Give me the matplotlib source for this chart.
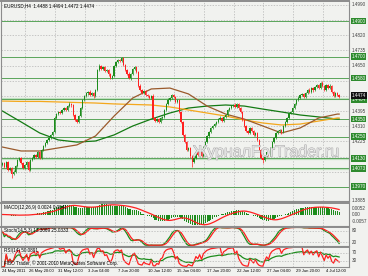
import numpy as np
import pandas as pd
import matplotlib
matplotlib.use("Agg")
import matplotlib.pyplot as plt
import matplotlib.patheffects as pe
import matplotlib.transforms as mtransforms

plt.rcParams['font.family'] = ['Liberation Sans', 'DejaVu Sans']

# EURUSD H4 closes, 24 May 2011 - 5 Jul 2011
closes = [
    1.4104, 1.4081, 1.4109, 1.4064, 1.4076, 1.4042, 1.4053, 1.4087, 1.4120, 1.4132,
    1.4104, 1.4076, 1.4092, 1.4109, 1.4064, 1.4120, 1.4132, 1.4148, 1.4137, 1.4165,
    1.4132, 1.4177, 1.4199, 1.4216, 1.4233, 1.4244, 1.4261, 1.4277, 1.4356, 1.4378,
    1.4390, 1.4384, 1.4401, 1.4412, 1.4401, 1.4423, 1.4435, 1.4429, 1.4373, 1.4345,
    1.4334, 1.4367, 1.4412, 1.4457, 1.4479, 1.4496, 1.4502, 1.4485, 1.4496, 1.4479,
    1.4513, 1.4625, 1.4648, 1.4631, 1.4642, 1.4620, 1.4625, 1.4603, 1.4580, 1.4592,
    1.4648, 1.4670, 1.4681, 1.4676, 1.4693, 1.4653, 1.4625, 1.4603, 1.4580, 1.4603,
    1.4631, 1.4642, 1.4614, 1.4536, 1.4513, 1.4496, 1.4508, 1.4485, 1.4479, 1.4468,
    1.4479, 1.4356, 1.4339, 1.4350, 1.4334, 1.4356, 1.4362, 1.4401, 1.4435, 1.4457,
    1.4468, 1.4485, 1.4474, 1.4446, 1.4457, 1.4390, 1.4334, 1.4261, 1.4221, 1.4177,
    1.4188, 1.4143, 1.4109, 1.4132, 1.4165, 1.4148, 1.4177, 1.4143, 1.4193, 1.4221,
    1.4255, 1.4277, 1.4300, 1.4311, 1.4322, 1.4334, 1.4350, 1.4356, 1.4339, 1.4362,
    1.4373, 1.4401, 1.4412, 1.4423, 1.4429, 1.4418, 1.4435, 1.4412, 1.4390, 1.4345,
    1.4311, 1.4283, 1.4272, 1.4300, 1.4283, 1.4261, 1.4272, 1.4233, 1.4177, 1.4132,
    1.4120, 1.4143, 1.4165, 1.4148, 1.4188, 1.4221, 1.4244, 1.4272, 1.4283, 1.4289,
    1.4277, 1.4311, 1.4334, 1.4356, 1.4384, 1.4390, 1.4412, 1.4435, 1.4457, 1.4468,
    1.4485, 1.4491, 1.4474, 1.4496, 1.4513, 1.4502, 1.4524, 1.4513, 1.4530, 1.4541,
    1.4524, 1.4552, 1.4536, 1.4513, 1.4541, 1.4524, 1.4536, 1.4502, 1.4479, 1.4496,
    1.4485, 1.4474]
open0 = 1.4090
# wick lengths in pips above / below the body
up_wick = [
    6, 4, 8, 3, 5, 4, 9, 7, 5, 6, 4, 3, 8, 6, 4, 7, 6, 5, 8, 4,
    5, 7, 4, 6, 5, 8, 4, 6, 9, 5, 7, 4, 6, 8, 5, 4, 10, 6, 3, 5,
    6, 8, 5, 4, 7, 6, 5, 9, 4, 6, 8, 5, 12, 6, 7, 4, 8, 5, 6, 7,
    5, 6, 4, 8, 7, 5, 6, 4, 9, 5, 6, 7, 4, 5, 8, 6, 5, 7, 4, 6,
    5, 9, 6, 4, 7, 5, 8, 6, 5, 9, 7, 6, 8, 5, 6, 4, 7, 5, 6, 8,
    5, 7, 4, 6, 9, 5, 8, 6, 4, 7, 5, 6, 8, 4, 5, 7, 6, 9, 5, 6,
    7, 4, 6, 8, 5, 9, 6, 7, 5, 4, 6, 8, 5, 7, 6, 4, 5, 8, 6, 5,
    7, 6, 5, 9, 4, 6, 7, 5, 8, 6, 4, 7, 5, 6, 8, 5, 4, 7, 6, 9,
    5, 8, 6, 4, 7, 10, 6, 5, 8, 4, 6, 7, 12, 5, 6, 4, 8, 5, 7, 6,
    5, 4]
lo_wick = [
    5, 8, 4, 7, 6, 23, 5, 4, 7, 5, 8, 6, 4, 9, 5, 6, 4, 7, 5, 8,
    6, 4, 7, 5, 8, 4, 6, 5, 7, 4, 6, 8, 5, 4, 7, 5, 6, 9, 5, 7,
    8, 5, 6, 4, 7, 5, 9, 6, 4, 8, 5, 7, 6, 4, 8, 5, 6, 9, 5, 4,
    6, 5, 7, 4, 8, 5, 6, 7, 4, 9, 5, 6, 4, 7, 8, 5, 6, 4, 7, 5,
    6, 8, 5, 7, 4, 6, 9, 5, 6, 4, 7, 5, 8, 6, 4, 7, 5, 6, 8, 5,
    6, 9, 28, 5, 7, 6, 8, 4, 5, 7, 6, 9, 5, 4, 6, 8, 5, 7, 4, 6,
    5, 7, 6, 4, 8, 5, 6, 9, 5, 7, 4, 6, 8, 5, 6, 7, 5, 4, 8, 6,
    15, 6, 4, 7, 5, 8, 6, 4, 7, 5, 9, 6, 5, 7, 4, 6, 8, 5, 7, 4,
    6, 5, 8, 4, 6, 7, 5, 9, 4, 6, 5, 7, 4, 8, 6, 5, 7, 4, 6, 5,
    7, 5]

# moving averages, sampled every 10 bars
ma_bars = list(range(0, 181, 10)) + [181]
ma_orange = [1.4451, 1.4449, 1.4449, 1.4446, 1.4443, 1.4440, 1.4435, 1.4432, 1.4429, 1.4418,
             1.4401, 1.4384, 1.4367, 1.4345, 1.4328, 1.4317, 1.4322, 1.4339, 1.4356, 1.4356]
ma_brown = [1.4193, 1.4171, 1.4171, 1.4188, 1.4205, 1.4255, 1.4367, 1.4468, 1.4519, 1.4524,
            1.4491, 1.4423, 1.4378, 1.4350, 1.4311, 1.4272, 1.4300, 1.4356, 1.4378, 1.4378]
ma_green = [1.4395, 1.4334, 1.4272, 1.4233, 1.4221, 1.4227, 1.4261, 1.4311, 1.4350, 1.4384,
            1.4412, 1.4423, 1.4429, 1.4423, 1.4406, 1.4390, 1.4373, 1.4362, 1.4350, 1.4350]

levels = [1.4900, 1.4700, 1.4580, 1.4464, 1.4350, 1.4250, 1.4130, 1.4073, 1.3970]
level_pale = [False, False, False, True, False, False, True, True, False]
price_ticks = [1.4990, 1.4905, 1.4820, 1.4735, 1.4650, 1.4565, 1.4480, 1.4395,
               1.4310, 1.4225, 1.4140, 1.4055, 1.3970, 1.3885]
date_bars = [0, 14, 30, 46, 62, 78, 94, 110, 126, 142, 158, 174]
date_labels = ["24 May 2011", "26 May 20:00", "31 May 12:00", "3 Jun 04:00",
               "7 Jun 20:00", "10 Jun 12:00", "15 Jun 04:00", "17 Jun 20:00",
               "22 Jun 12:00", "27 Jun 04:00", "29 Jun 20:00", "4 Jul 12:00"]
title = "EURUSD,H4  1.4488 1.4494 1.4472 1.4474"

BG = "#f1f2ef"
GRID = "#b4b4b4"
FRAME = "#8c8c8c"
UPC = "#1c8c1c"
DNC = "#ff2020"
FS = 3.3

c = np.array(closes)
o = np.r_[open0, c[:-1]]
hi = np.maximum(o, c) + np.array(up_wick) / 1e4
lo = np.minimum(o, c) - np.array(lo_wick) / 1e4
idx = np.arange(len(c))
cs = pd.Series(c)

# indicators from the closes
macd = cs.ewm(span=12, adjust=False).mean() - cs.ewm(span=26, adjust=False).mean()
macd_sig = macd.rolling(9, min_periods=1).mean()
hh = pd.Series(hi).rolling(14, min_periods=1).max()
ll = pd.Series(lo).rolling(14, min_periods=1).min()
k_raw = (cs - ll) / (hh - ll) * 100
stoch_k = k_raw.rolling(5, min_periods=1).mean()
stoch_d = stoch_k.rolling(3, min_periods=1).mean()
delta = cs.diff().fillna(0)
def rsi(n):
    g = delta.clip(lower=0).ewm(alpha=1 / n, adjust=False).mean()
    l = (-delta.clip(upper=0)).ewm(alpha=1 / n, adjust=False).mean()
    return 100 - 100 / (1 + g / l.replace(0, 1e-9))
rsi_fast = rsi(3)
rsi_slow = rsi(14)

W, H = 368.0, 276.0
fig = plt.figure(figsize=(3.68, 2.76), dpi=100)
fig.patch.set_facecolor(BG)

def panel(top, bottom):
    ax = fig.add_axes([1 / W, 1 - bottom / H, 348 / W, (bottom - top) / H])
    ax.set_facecolor(BG)
    for s in ax.spines.values():
        s.set_color(FRAME)
        s.set_linewidth(0.8)
    ax.spines["top"].set_linewidth(1.4)
    ax.set_xticks([])
    ax.set_yticks([])
    ax.set_xlim(-0.8, 186.3)
    for b in date_bars[1:]:
        ax.axvline(b - 1.7, color=GRID, lw=0.5, ls=(0, (2, 2)), zorder=0)
    return ax

def rlabel(ax, y, s, fc=None, tc="#404040", trans=None):
    kw = dict(fontsize=FS, va="center", ha="left", clip_on=False, color=tc, zorder=6)
    if fc:
        kw["bbox"] = dict(boxstyle="square,pad=0.2", fc=fc, ec="none")
        kw["zorder"] = 7
    ax.text(1.007, y, s, transform=trans, **kw)

ax = panel(1, 201)
ax.set_ylim(1.38904, 1.50124)
ytr = mtransforms.blended_transform_factory(ax.transAxes, ax.transData)
for p in price_ticks:
    ax.axhline(p, color=GRID, lw=0.5, ls=(0, (2, 2)), zorder=0)
    if min(abs(p - q) for q in levels + [c[-1]]) > 0.0021 and p > 1.389:
        rlabel(ax, p, f"{p:.4f}", trans=ytr)
for p, pale in zip(levels, level_pale):
    if pale:
        ax.axhline(p - 0.0003, color="#bfe0bf", lw=1.6, zorder=1)
    ax.axhline(p, color="#5aa55a", lw=0.7, zorder=1)
    shift = -0.0006 if abs(p - c[-1]) < 0.002 else 0.0
    rlabel(ax, p + shift, f"{p:.4f}", fc="#2e8b2e", tc="white", trans=ytr)
rlabel(ax, c[-1] + 0.0010, f"{c[-1]:.4f}", fc="#101010", tc="white", trans=ytr)
# lowest price label sits on the panel edge
ax.text(1.007, 0.0, f"{price_ticks[-1]:.4f}", transform=ax.transAxes, fontsize=FS,
        color="#404040", va="center", ha="left", clip_on=False)

ax.plot(ma_bars, ma_green, color="#137a13", lw=0.9, zorder=2)
ax.plot(ma_bars, ma_orange, color="#f4a81c", lw=0.9, zorder=2)
ax.plot(ma_bars, ma_brown, color="#9a5a2c", lw=0.9, zorder=2)

col = np.where(c >= o, UPC, DNC)
ax.vlines(idx, lo, hi, colors=col, lw=0.5, zorder=3)
ax.bar(idx, np.maximum(np.abs(c - o), 0.00008), bottom=np.minimum(o, c),
       width=0.7, color=col, lw=0, zorder=3)

ax.text(0.008, 0.988, title, transform=ax.transAxes, fontsize=FS, va="top", ha="left")
ax.text(0.762, 0.245, "ЖурналForTrader.ru", transform=ax.transAxes, fontsize=11.5,
        color="#e4e4e4", ha="center", va="center", zorder=4,
        path_effects=[pe.withStroke(linewidth=0.6, foreground="#a0a0a0")])

# MACD
am = panel(203, 226)
am.bar(idx, macd, width=0.6, color="#1c8c1c", lw=0)
am.plot(idx, macd_sig, color="#ff2020", lw=0.9)
mm = max(abs(macd.min()), abs(macd.max())) * 1.05
am.set_ylim(-mm, mm)
mtr = mtransforms.blended_transform_factory(am.transAxes, am.transData)
for v in (mm * 0.55, 0.0, -mm * 0.6):
    rlabel(am, v, f"{v:.4f}" if v else "0.00", trans=mtr)
am.text(0.008, 0.93, f"MACD(12,26,9) {macd.iloc[-1]:.4f} {macd_sig.iloc[-1]:.4f}",
        transform=am.transAxes, fontsize=FS, va="top", ha="left")

# Stochastic
ast = panel(227, 246)
ast.plot(idx, stoch_k, color="#1c8c1c", lw=0.9)
ast.plot(idx, stoch_d, color="#ff2020", lw=0.9)
ast.set_ylim(0, 100)
str_ = mtransforms.blended_transform_factory(ast.transAxes, ast.transData)
for lv in (80, 20):
    ast.axhline(lv, color=GRID, lw=0.5, ls=(0, (2, 2)))
    rlabel(ast, lv, str(lv), trans=str_)
ast.text(0.008, 0.95, f"Stoch(14,5,3) {stoch_k.iloc[-1]:.4f} {stoch_d.iloc[-1]:.4f}",
         transform=ast.transAxes, fontsize=FS, va="top", ha="left")

# RSI
ar = panel(247, 267)
ar.plot(idx, rsi_slow, color="#1c8c1c", lw=0.9)
ar.plot(idx, rsi_fast, color="#ff2020", lw=0.9)
ar.set_ylim(0, 100)
rtr = mtransforms.blended_transform_factory(ar.transAxes, ar.transData)
for lv in (70, 30):
    ar.axhline(lv, color=GRID, lw=0.5, ls=(0, (2, 2)))
    rlabel(ar, lv, str(lv), trans=rtr)
ar.text(0.008, 0.95, f"RSI(14) {rsi_slow.iloc[-1]:.4f}",
        transform=ar.transAxes, fontsize=FS, va="top", ha="left")
ar.text(0.008, 0.06, "FIBO Trader, © 2001-2010 MetaQuotes Software Corp.",
        transform=ar.transAxes, fontsize=FS, va="bottom", ha="left")

xtr = mtransforms.blended_transform_factory(ar.transData, ar.transAxes)
for b, lab in zip(date_bars, date_labels):
    ar.text(b, -0.12, lab, transform=xtr, fontsize=3.0, va="top", ha="left", clip_on=False)

fig.savefig("out.png", dpi=100, facecolor=BG)
